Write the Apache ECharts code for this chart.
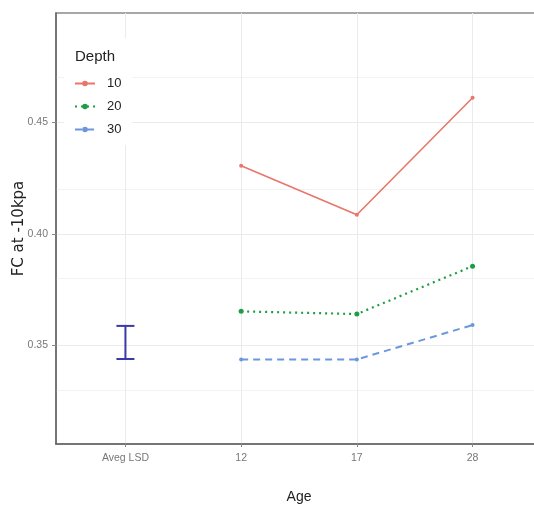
<!DOCTYPE html>
<html>
<head>
<meta charset="utf-8">
<script src="https://cdn.jsdelivr.net/npm/echarts@6/dist/echarts.min.js"></script>
<style>html,body{margin:0;padding:0;background:#fff;}#c{width:534px;height:508px;}</style>
</head>
<body>
<div id="c"></div>
<script>
const categories = ['Aveg LSD', '12', '17', '28'];
const depthNames = ['10', '20', '30'];
const depth10 = [null, 0.4304, 0.4085, 0.4608];
const depth20 = [null, 0.3653, 0.3641, 0.3855];
const depth30 = [null, 0.3438, 0.3438, 0.3592];
const lsdLow = [0.3440];
const lsdHigh = [0.3588];
const yTicks = [0.35, 0.40, 0.45];
const yMinor = [0.325, 0.375, 0.425, 0.475];

function toPts(arr) {
  const out = [];
  arr.forEach((v, i) => { if (v !== null) out.push([i, v]); });
  return out;
}

const chart = echarts.init(document.getElementById('c'));
const font = 'Liberation Sans, Arial, sans-serif';

const gridLines = [];
yTicks.forEach(v => gridLines.push({ yAxis: v, lineStyle: { color: '#ebebeb', width: 1, type: 'solid' } }));
yMinor.forEach(v => gridLines.push({ yAxis: v, lineStyle: { color: '#f3f3f3', width: 1, type: 'solid' } }));
categories.forEach((c, i) => gridLines.push({ xAxis: i, lineStyle: { color: '#ebebeb', width: 1, type: 'solid' } }));

chart.setOption({
  animation: false,
  backgroundColor: '#fff',
  grid: { left: 56, top: 13, width: 486, height: 431, outerBoundsMode: 'none', containLabel: false, show: true, borderColor: '#8a8a8a', borderWidth: 1.5, backgroundColor: 'transparent' },
  xAxis: {
    type: 'value', min: -0.6, max: 3.6,
    name: 'Age', nameLocation: 'middle', nameGap: 46, nameMoveOverlap: false,
    nameTextStyle: { fontFamily: font, fontSize: 14, color: '#222' },
    axisLine: { show: true, onZero: false, lineStyle: { color: '#666', width: 1.5 } },
    axisTick: { show: true, length: 3, customValues: [0, 1, 2, 3], lineStyle: { color: '#888' } },
    axisLabel: { customValues: [0, 1, 2, 3], formatter: v => categories[Math.round(v)], fontFamily: font, fontSize: 10.5, color: '#777', margin: 9 },
    splitLine: { show: false }
  },
  yAxis: {
    type: 'value', min: 0.306, max: 0.4987,
    name: 'FC at -10kpa', nameLocation: 'middle', nameGap: 29, nameMoveOverlap: false,
    nameTextStyle: { fontFamily: 'DejaVu Sans, sans-serif', fontSize: 15, color: '#222' },
    axisLine: { show: true, onZero: false, lineStyle: { color: '#666', width: 1.5 } },
    axisTick: { show: true, length: 4, customValues: yTicks, lineStyle: { color: '#888' } },
    axisLabel: { customValues: yTicks, formatter: v => v.toFixed(2), fontFamily: font, fontSize: 10.5, color: '#777', margin: 8 },
    splitLine: { show: false }
  },
  legend: {
    orient: 'vertical', left: 69, top: 71, z: 10,
    itemWidth: 20, itemHeight: 7, itemGap: 8,
    data: depthNames,
    textStyle: { fontFamily: font, fontSize: 13, color: '#222', padding: [0, 0, 0, 7], lineHeight: 15 }
  },
  graphic: [
    { type: 'rect', z: 5, shape: { x: 64, y: 38, width: 68, height: 107 }, style: { fill: '#fff' } },
    { type: 'text', z: 6, left: 75, top: 49, style: { text: 'Depth', fontFamily: font, fontSize: 15, fill: '#222' } }
  ],
  series: [
    {
      type: 'line', name: '_grid', data: [], silent: true, z: 0,
      markLine: { silent: true, z: 0, symbol: 'none', label: { show: false }, animation: false, data: gridLines }
    },
    {
      type: 'custom', name: 'LSD', z: 3,
      data: lsdLow.map((v, i) => [0, v, lsdHigh[i]]),
      renderItem: function (params, api) {
        const lo = api.coord([api.value(0), api.value(1)]);
        const hi = api.coord([api.value(0), api.value(2)]);
        const st = { stroke: '#3a3aa6', lineWidth: 2 };
        return {
          type: 'group', children: [
            { type: 'line', shape: { x1: lo[0], y1: lo[1], x2: hi[0], y2: hi[1] }, style: st },
            { type: 'line', shape: { x1: lo[0] - 9, y1: lo[1], x2: lo[0] + 9, y2: lo[1] }, style: st },
            { type: 'line', shape: { x1: hi[0] - 9, y1: hi[1], x2: hi[0] + 9, y2: hi[1] }, style: st }
          ]
        };
      }
    },
    {
      type: 'line', name: depthNames[0], data: toPts(depth10), z: 4,
      symbol: 'circle', symbolSize: 4, color: '#e8766b',
      lineStyle: { color: '#e8766b', width: 1.6, type: 'solid' }
    },
    {
      type: 'line', name: depthNames[1], data: toPts(depth20), z: 4,
      symbol: 'circle', symbolSize: 5, color: '#1d9e46',
      lineStyle: { color: '#1d9e46', width: 2.2, type: [2, 4] }
    },
    {
      type: 'line', name: depthNames[2], data: toPts(depth30), z: 4,
      symbol: 'circle', symbolSize: 4, color: '#6b98dc',
      lineStyle: { color: '#6b98dc', width: 2, type: [7, 5] }
    }
  ]
});
</script>
</body>
</html>
